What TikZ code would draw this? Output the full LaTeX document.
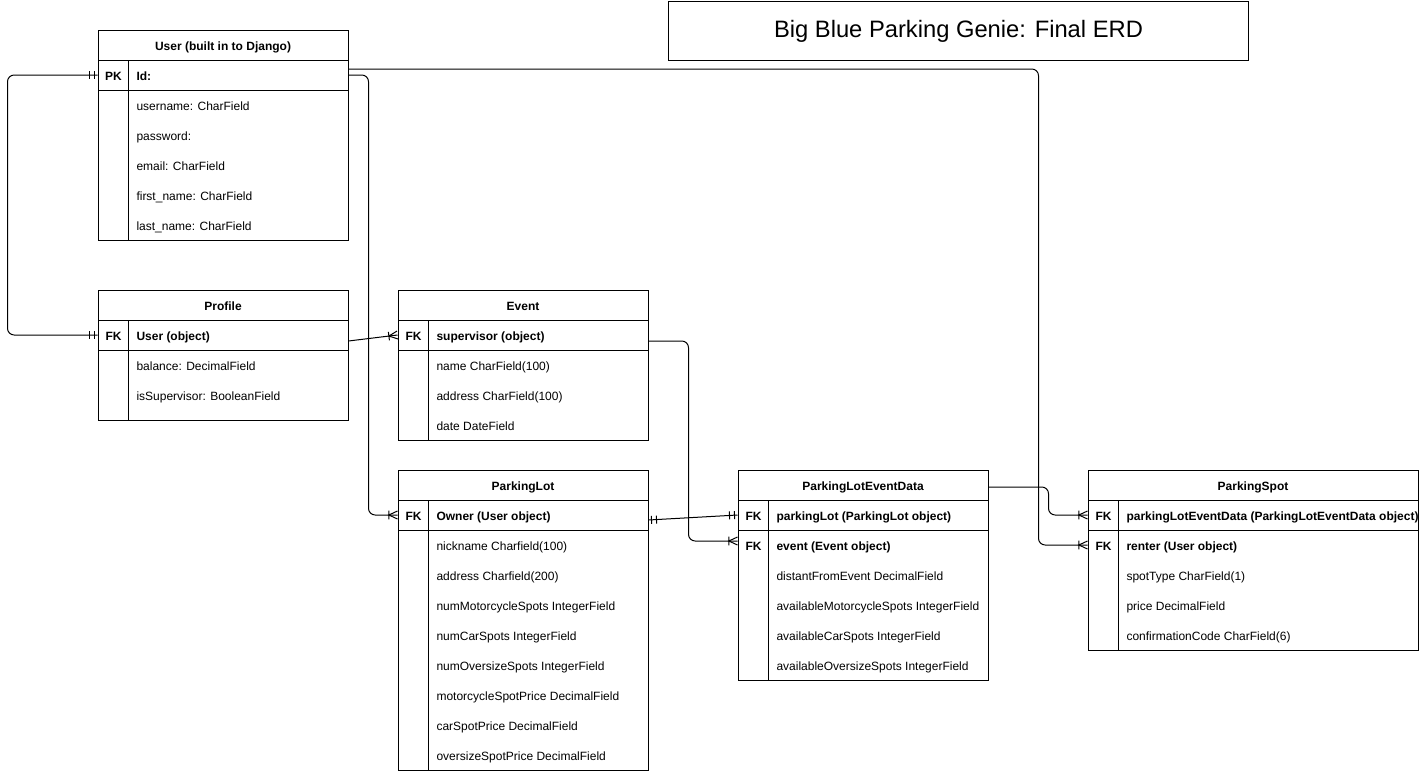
\documentclass[tikz,border=0pt]{standalone}
\usepackage{fontspec}
\setmainfont{Liberation Sans}
\usetikzlibrary{calc}

\pgfdeclarearrow{
  name=ERone,
  setup code={
    \pgfarrowssettipend{0pt}
    \pgfarrowssetlineend{0pt}
    \pgfarrowssetbackend{-6pt}
    \pgfarrowshullpoint{0pt}{3pt}
    \pgfarrowshullpoint{0pt}{-3pt}
    \pgfarrowshullpoint{-6pt}{3pt}
    \pgfarrowshullpoint{-6pt}{-3pt}
  },
  drawing code={
    \pgfpathmoveto{\pgfqpoint{-2.25pt}{3pt}}
    \pgfpathlineto{\pgfqpoint{-2.25pt}{-3pt}}
    \pgfpathmoveto{\pgfqpoint{-6pt}{3pt}}
    \pgfpathlineto{\pgfqpoint{-6pt}{-3pt}}
    \pgfusepathqstroke
  }
}
\pgfdeclarearrow{
  name=ERmany,
  setup code={
    \pgfarrowssettipend{0pt}
    \pgfarrowssetlineend{0pt}
    \pgfarrowssetbackend{-7pt}
    \pgfarrowshullpoint{0pt}{3.2pt}
    \pgfarrowshullpoint{0pt}{-3.2pt}
    \pgfarrowshullpoint{-7pt}{3.2pt}
    \pgfarrowshullpoint{-7pt}{-3.2pt}
  },
  drawing code={
    \pgfpathmoveto{\pgfqpoint{0pt}{3pt}}
    \pgfpathlineto{\pgfqpoint{-6.5pt}{0pt}}
    \pgfpathlineto{\pgfqpoint{0pt}{-3pt}}
    \pgfpathmoveto{\pgfqpoint{-6.5pt}{3.2pt}}
    \pgfpathlineto{\pgfqpoint{-6.5pt}{-3.2pt}}
    \pgfusepathqstroke
  }
}

% table frame: name, x, y, width, height, title
\newcommand{\ertable}[6]{%
  \node[tablebox, minimum width=#4*0.75pt, minimum height=#5*0.75pt] (#1) at (#2,#3) {};
  \node[headtext, minimum width=#4*0.75pt] (#1-h) at (#2+#4/2,#3+15) {#6};
  \draw (#2,#3+30) -- (#2+#4,#3+30);
  \draw (#2,#3+60) -- (#2+#4,#3+60);
  \draw (#2+30,#3+30) -- (#2+30,#3+#5);
}
% key row: name, x, width, y centre, label, text
\newcommand{\erkey}[6]{%
  \node[rowbox, minimum width=#3*0.75pt] (#1) at (#2+#3/2,#4) {};
  \node[keytext] (#1-k) at (#2+15.5,#4) {#5};
  \node[keytext, anchor=west] (#1-t) at (#2+38,#4) {#6};
}
% field row: name, x, y centre, text
\newcommand{\erfield}[4]{%
  \node[fieldtext] (#1) at (#2+38,#3) {#4};
}

\begin{document}
\begin{tikzpicture}[x=0.75pt,y=-0.75pt, line width=0.75pt,
  tablebox/.style={draw, anchor=north west, inner sep=0pt},
  rowtext/.style={inner sep=0pt, text height=8.5pt, text depth=1pt, font=\fontsize{9}{11}\selectfont},
  fieldtext/.style={rowtext, anchor=west},
  keytext/.style={rowtext, font=\fontsize{9}{11}\selectfont\bfseries},
  headtext/.style={rowtext, font=\fontsize{9}{11}\selectfont\bfseries, minimum height=22.5pt},
  rowbox/.style={inner sep=0pt, minimum height=22.5pt},
  conn/.style={line width=0.75pt, rounded corners=5pt},
]
\useasboundingbox (0,0) rectangle (1420,771);

% title
\node[draw, anchor=north west, inner sep=0pt, minimum width=580*0.75pt, minimum height=59*0.75pt,
      font=\fontsize{17.8}{21}\selectfont] (title) at (668,1) {Big Blue Parking Genie: Final ERD};

% User
\ertable{user}{98}{30}{250}{210}{User (built in to Django)}
\erkey{u-id}{98}{250}{75}{PK}{Id:}
\erfield{u-name}{98}{105}{username: CharField}
\erfield{u-pass}{98}{135}{password:}
\erfield{u-mail}{98}{165}{email: CharField}
\erfield{u-first}{98}{195}{first\_name: CharField}
\erfield{u-last}{98}{225}{last\_name: CharField}

% Profile
\ertable{profile}{98}{290}{250}{130}{Profile}
\erkey{p-user}{98}{250}{335}{FK}{User (object)}
\erfield{p-bal}{98}{365}{balance: DecimalField}
\erfield{p-sup}{98}{395}{isSupervisor: BooleanField}

% Event
\ertable{event}{398}{290}{250}{150}{Event}
\erkey{e-sup}{398}{250}{335}{FK}{supervisor (object)}
\erfield{e-name}{398}{365}{name CharField(100)}
\erfield{e-addr}{398}{395}{address CharField(100)}
\erfield{e-date}{398}{425}{date DateField}

% ParkingLot
\ertable{lot}{398}{470}{250}{300}{ParkingLot}
\erkey{pl-owner}{398}{250}{515}{FK}{Owner (User object)}
\erfield{pl-nick}{398}{545}{nickname Charfield(100)}
\erfield{pl-addr}{398}{575}{address Charfield(200)}
\erfield{pl-nmot}{398}{605}{numMotorcycleSpots IntegerField}
\erfield{pl-ncar}{398}{635}{numCarSpots IntegerField}
\erfield{pl-nover}{398}{665}{numOversizeSpots IntegerField}
\erfield{pl-pmot}{398}{695}{motorcycleSpotPrice DecimalField}
\erfield{pl-pcar}{398}{725}{carSpotPrice DecimalField}
\erfield{pl-pover}{398}{755}{oversizeSpotPrice DecimalField}

% ParkingLotEventData
\ertable{pled}{738}{470}{250}{210}{ParkingLotEventData}
\erkey{d-lot}{738}{250}{515}{FK}{parkingLot (ParkingLot object)}
\erkey{d-event}{738}{250}{545}{FK}{event (Event object)}
\erfield{d-dist}{738}{575}{distantFromEvent DecimalField}
\erfield{d-mot}{738}{605}{availableMotorcycleSpots IntegerField}
\erfield{d-car}{738}{635}{availableCarSpots IntegerField}
\erfield{d-over}{738}{665}{availableOversizeSpots IntegerField}

% ParkingSpot
\ertable{spot}{1088}{470}{330}{180}{ParkingSpot}
\erkey{ps-data}{1088}{330}{515}{FK}{parkingLotEventData (ParkingLotEventData object)}
\erkey{ps-renter}{1088}{330}{545}{FK}{renter (User object)}
\erfield{ps-type}{1088}{575}{spotType CharField(1)}
\erfield{ps-price}{1088}{605}{price DecimalField}
\erfield{ps-code}{1088}{635}{confirmationCode CharField(6)}

% connectors
\draw[conn, arrows={ERone-ERone}] (u-id.west) -- ++(-90,0) |- (p-user.west);
\draw[conn, arrows={-ERmany}] (u-id.east) -- ++(20,0) |- (pl-owner.west);
\draw[conn, arrows={-ERmany}] ([yshift=4.5pt]u-id.east) -- ++(690,0) |- (ps-renter.west);
\draw[conn, arrows={-ERmany}] ([yshift=-4.5pt]p-user.east) -- (e-sup.west);
\draw[conn, arrows={-ERmany}] ([yshift=-4.5pt]e-sup.east) -- ++(40,0) |- ([yshift=3pt]d-event.west);
\draw[conn, arrows={ERone-ERone}] ([yshift=-3.75pt]pl-owner.east) -- (d-lot.west);
\draw[conn, arrows={-ERmany}] ([yshift=-1.5pt]pled-h.east) -- ++(60,0) |- (ps-data.west);
\end{tikzpicture}
\end{document}
